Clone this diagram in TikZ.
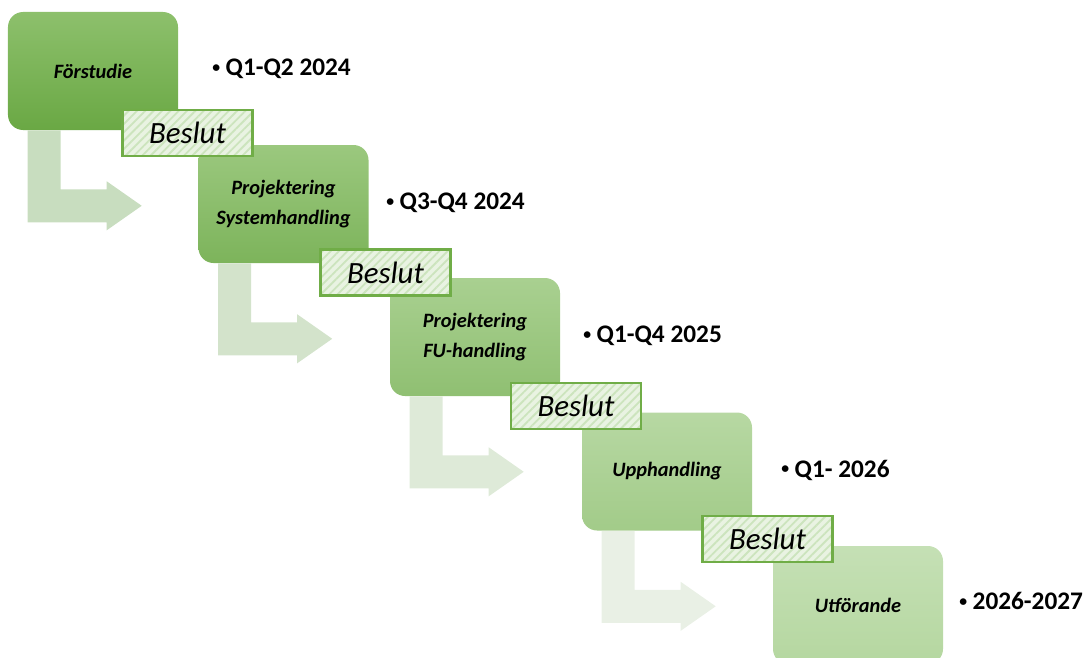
\documentclass[tikz,border=0pt]{standalone}
\usepackage{fontspec}
\setmainfont{Carlito}
\usepackage{xcolor}
\usepackage{tikz}
\usetikzlibrary{positioning,calc,patterns.meta}
\definecolor{phasetopA}{RGB}{141,192,108}
\definecolor{phasebotA}{RGB}{106,168,68}
\definecolor{phasetopE}{RGB}{197,224,181}
\definecolor{phasebotE}{RGB}{181,215,160}
\definecolor{bendA}{RGB}{200,221,191}
\definecolor{bendD}{RGB}{233,240,229}
\definecolor{decisionline}{RGB}{112,173,71}
\definecolor{decisionfill}{RGB}{233,243,226}
\definecolor{decisionstripe}{RGB}{204,228,189}
\newcommand{\smallbul}{\raisebox{0.13em}{\scalebox{0.62}{•}}\hspace{0.22em}}

\begin{document}
\begin{tikzpicture}[
    phase/.style={rounded corners=0.375cm, minimum width=4.25cm, minimum height=2.95cm, inner sep=0pt,
        align=center, font=\fontsize{14.5}{21}\selectfont\bfseries\itshape},
    decision/.style={draw=decisionline, line width=1.5pt, minimum width=3.25cm, minimum height=1.15cm, inner sep=0pt,
        preaction={fill=decisionfill},
        pattern={Lines[angle=45, distance=4.2pt, line width=1.3pt]}, pattern color=decisionstripe,
        font=\fontsize{22}{26}\selectfont\itshape},
    datelabel/.style={anchor=west, inner sep=0pt, font=\fontsize{18}{22}\selectfont\bfseries}
]
\useasboundingbox (0,0) rectangle (27.225,-16.425);
\clip (0,0) rectangle (27.225,-16.425);

% phase boxes
\node[phase, top color=phasetopA, bottom color=phasebotA] (p1) at (2.325,-1.775) {Förstudie};
\node[phase, top color=phasetopE!25!phasetopA, bottom color=phasebotE!25!phasebotA] (p2) at (7.0875,-5.1) {Projektering\\Systemhandling};
\node[phase, top color=phasetopE!50!phasetopA, bottom color=phasebotE!50!phasebotA] (p3) at (11.875,-8.425) {Projektering\\FU-handling};
\node[phase, top color=phasetopE!75!phasetopA, bottom color=phasebotE!75!phasebotA] (p4) at (16.675,-11.7875) {Upphandling};
\node[phase, top color=phasetopE, bottom color=phasebotE] (p5) at (21.45,-15.125) {Utförande};

% bent arrows below each box
\fill[bendA, shift={(p1.south west)}] (0.5,0) -- (1.325,0) -- (1.325,-1.475) -- (2.475,-1.475) -- (2.475,-1.275)
    -- (3.35,-1.8875) -- (2.475,-2.5) -- (2.475,-2.3) -- (0.5,-2.3) -- cycle;
\fill[bendD!33!bendA, shift={(p2.south west)}] (0.5,0) -- (1.325,0) -- (1.325,-1.475) -- (2.475,-1.475) -- (2.475,-1.275)
    -- (3.35,-1.8875) -- (2.475,-2.5) -- (2.475,-2.3) -- (0.5,-2.3) -- cycle;
\fill[bendD!67!bendA, shift={(p3.south west)}] (0.5,0) -- (1.325,0) -- (1.325,-1.475) -- (2.475,-1.475) -- (2.475,-1.275)
    -- (3.35,-1.8875) -- (2.475,-2.5) -- (2.475,-2.3) -- (0.5,-2.3) -- cycle;
\fill[bendD, shift={(p4.south west)}] (0.5,0) -- (1.325,0) -- (1.325,-1.475) -- (2.475,-1.475) -- (2.475,-1.275)
    -- (3.35,-1.8875) -- (2.475,-2.5) -- (2.475,-2.3) -- (0.5,-2.3) -- cycle;

% decision boxes
\node[decision] (b1) at (4.6875,-3.325) {Beslut};
\node[decision] (b2) at (9.6375,-6.8125) {Beslut};
\node[decision] (b3) at (14.4,-10.15) {Beslut};
\node[decision] (b4) at (19.1875,-13.475) {Beslut};

% dates
\node[datelabel] (d1) at (5.3,-1.725) {\smallbul Q1-Q2 2024};
\node[datelabel] (d2) at (9.65,-5.075) {\smallbul Q3-Q4 2024};
\node[datelabel] (d3) at (14.575,-8.4) {\smallbul Q1-Q4 2025};
\node[datelabel] (d4) at (19.525,-11.75) {\smallbul Q1- 2026};
\node[datelabel] (d5) at (23.975,-15.025) {\smallbul 2026-2027};

\end{tikzpicture}
\end{document}
